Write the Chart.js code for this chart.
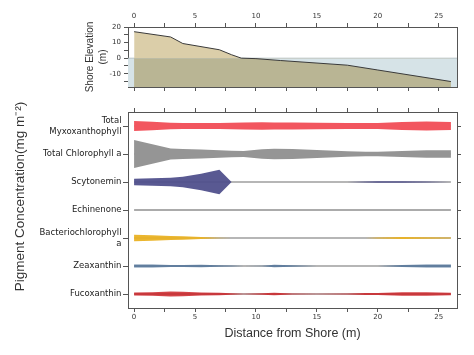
<!DOCTYPE html>
<html><head><meta charset="utf-8">
<script src="https://cdn.jsdelivr.net/npm/chart.js@4.4.1/dist/chart.umd.min.js"></script>
<style>
html,body{margin:0;padding:0;background:#fff;}
#wrap{position:relative;width:474px;height:355px;}
#wrap canvas{position:absolute;left:0;top:0;}
</style></head><body>
<div id="wrap"><canvas id="topc" width="474" height="355"></canvas><canvas id="botc" width="474" height="355"></canvas></div>
<script>
// ---- data ----
const elevDistance = [0, 3, 4, 7, 8, 8.8, 10, 12, 17.5, 20, 26];
const elevation    = [17, 13.6, 9.4, 5.4, 2.2, 0, -0.3, -1.5, -4.5, -7.6, -15];

const stations = [0, 1.5, 3, 4, 5.5, 7, 8, 9, 10.5, 11.5, 13, 15, 17.5, 19, 20, 22, 24, 26];
const pigmentLabels = [['Total', 'Myxoxanthophyll'], 'Total Chlorophyll a', 'Scytonemin', 'Echinenone', ['Bacteriochlorophyll', 'a'], 'Zeaxanthin', 'Fucoxanthin'];
const myxoxanthophyll      = [10, 8.5, 6.5, 6.2, 6, 6.2, 6.5, 6.8, 7.3, 7.2, 7, 6.3, 6.2, 6, 6, 8, 9, 8];
const chlorophyllA         = [28, 19.5, 11, 10, 9, 7.5, 6.5, 6, 9.5, 10.5, 9.8, 8, 5.5, 4.5, 4.3, 6, 7.3, 7.7];
const scytonemin           = [6.3, 7.3, 8.5, 10.5, 16.5, 24.7, 0, 0, 0, 0, 0, 0, 0, 0.8, 1.5, 1.5, 1, 0];
const echinenone           = [0.5, 0.5, 0.5, 0.5, 0.5, 0.5, 0.5, 0.5, 0.5, 0.5, 0.5, 0.5, 0.5, 0.5, 0.5, 0.5, 0.5, 0.5];
const bacteriochlorophyllA = [6.7, 5.3, 4, 3.3, 2.2, 0.5, 0, 0, 0, 0, 0, 0, 0, 0, 1.2, 2, 1.6, 0.8];
const zeaxanthin           = [3, 3, 2, 2.2, 2.3, 1.5, 1, 0, 0.5, 2.5, 1.5, 0, 0, 0, 0, 2, 3, 3];
const fucoxanthin          = [3, 3.5, 5, 4.5, 3, 2.5, 1.5, 0.5, 1.5, 2.5, 1, 0.5, 1, 2, 2, 3.5, 3.5, 2.5];

const distanceTicks = [0, 2.5, 5, 7.5, 10, 12.5, 15, 17.5, 20, 22.5, 25];
const elevationTicks = [-15, -10, -5, 0, 5, 10, 15, 20];

// ---- styles ----
const pigmentSeries = [myxoxanthophyll, chlorophyllA, scytonemin, echinenone, bacteriochlorophyllA, zeaxanthin, fucoxanthin];
const pigmentColors = ['#f2565f', '#959595', 'rgba(80,80,140,0.95)', '#8c8c8c', 'rgba(234,178,36,0.95)', 'rgba(84,118,155,0.85)', 'rgba(205,35,40,0.85)'];
const BAND_SCALE = 1 / 56;
const AX = '#555';
Chart.defaults.font.family = 'DejaVu Sans';
Chart.defaults.color = '#333';

const tickFont = {family: 'DejaVu Sans', size: 7};
const setTicks = arr => s => { s.ticks = arr.map(v => ({value: v})); };
const fixW = w => s => { s.width = w; };
const fixH = h => s => { s.height = h; };
const gridOut = len => ({drawOnChartArea: false, drawTicks: true, tickLength: len, color: AX, tickColor: AX, tickWidth: 1});
const border = {display: true, color: AX, width: 1};
const label5 = v => (Math.abs(v % 5) < 1e-9 ? String(v) : '');

// ---- top chart: shore elevation ----
const waterData = [{x: -0.5, y: 0}, {x: 26.5, y: 0}];
const elevPts = elevDistance.map((x, i) => ({x, y: elevation[i]}));
const elevBelow = elevDistance.map((x, i) => ({x, y: Math.min(elevation[i], 0)}));

new Chart(document.getElementById('topc'), {
  type: 'line',
  data: {datasets: [
    {data: elevPts, borderColor: '#3a3a3a', borderWidth: 1, pointRadius: 0, fill: false, order: 0},
    {data: elevPts, borderColor: 'rgba(0,0,0,0)', pointRadius: 0, fill: {target: {value: 0}, above: '#dbcea9', below: 'rgba(0,0,0,0)'}, order: 2},
    {data: elevBelow, borderColor: 'rgba(0,0,0,0)', pointRadius: 0, fill: 'start', backgroundColor: '#b9b594', order: 2},
    {data: waterData, borderColor: '#aab8bc', borderWidth: 0.8, pointRadius: 0, fill: 'start', backgroundColor: '#d6e3e7', order: 3}
  ]},
  options: {
    responsive: false, animation: false, devicePixelRatio: 1,
    layout: {padding: {left: 0, top: 0, right: 17, bottom: 263}, autoPadding: false},
    plugins: {legend: {display: false}, tooltip: {enabled: false}},
    scales: {
      x: {type: 'linear', position: 'top', min: -0.5, max: 26.5, afterBuildTicks: setTicks(distanceTicks), afterFit: fixH(27),
          grid: gridOut(4), border, ticks: {font: tickFont, padding: 2.5, maxRotation: 0, autoSkip: false, callback: label5}},
      x2: {type: 'linear', position: 'bottom', min: -0.5, max: 26.5, afterBuildTicks: setTicks(distanceTicks), afterFit: fixH(5),
          grid: gridOut(4), border, ticks: {display: false}},
      y: {type: 'linear', position: 'left', min: -18.5, max: 20, afterBuildTicks: setTicks(elevationTicks), afterFit: fixW(128),
          grid: gridOut(4), border, ticks: {font: tickFont, padding: 3, autoSkip: false, callback: v => (v % 10 === 0 ? String(v) : '')},
          title: {display: true, text: ['Shore Elevation', '(m)'], color: '#333', font: {family: 'Liberation Sans', size: 10, lineHeight: '13px'}, padding: {top: 83.5, bottom: 0}}},
      y2: {type: 'linear', position: 'right', min: -18.5, max: 20, afterFit: fixW(0),
          grid: {drawOnChartArea: false, drawTicks: false}, border, ticks: {display: false}}
    }
  }
});

// ---- bottom chart: pigment bands ----
const botDatasets = [];
pigmentSeries.forEach((vals, i) => {
  botDatasets.push({data: [{x: 0, y: i}, {x: 26, y: i}], borderColor: '#9e9e9e', borderWidth: 1.5, pointRadius: 0, fill: false, order: 5});
});
pigmentSeries.forEach((vals, i) => {
  botDatasets.push({data: stations.map((x, k) => ({x, y: i - vals[k] * BAND_SCALE})), borderColor: 'rgba(0,0,0,0)', pointRadius: 0, fill: false, order: 1});
  botDatasets.push({data: stations.map((x, k) => ({x, y: i + vals[k] * BAND_SCALE})), borderColor: 'rgba(0,0,0,0)', pointRadius: 0, fill: '-1', backgroundColor: pigmentColors[i], order: 1});
});
const catTicks = pigmentLabels.map((_, i) => i);

new Chart(document.getElementById('botc'), {
  type: 'line',
  data: {datasets: botDatasets},
  options: {
    responsive: false, animation: false, devicePixelRatio: 1,
    layout: {padding: {left: 0, top: 108, right: 12, bottom: 0}, autoPadding: false},
    plugins: {legend: {display: false}, tooltip: {enabled: false}},
    scales: {
      x: {type: 'linear', position: 'bottom', min: -0.5, max: 26.5, afterBuildTicks: setTicks(distanceTicks), afterFit: fixH(47),
          grid: gridOut(4), border, ticks: {font: tickFont, padding: 1, maxRotation: 0, autoSkip: false, callback: label5},
          title: {display: true, text: 'Distance from Shore (m)', color: '#333', font: {family: 'Liberation Sans', size: 12.5, lineHeight: '15px'}, padding: {top: 0, bottom: 13.5}}},
      x2: {type: 'linear', position: 'top', min: -0.5, max: 26.5, afterBuildTicks: setTicks(distanceTicks), afterFit: fixH(4),
          grid: gridOut(4), border, ticks: {display: false}},
      y: {type: 'linear', position: 'left', reverse: true, min: -0.5, max: 6.5, afterBuildTicks: setTicks(catTicks), afterFit: fixW(128),
          grid: gridOut(5), border, ticks: {font: {family: 'DejaVu Sans', size: 8.5, lineHeight: '11px'}, padding: 1.5, autoSkip: false, color: '#222',
          callback: v => pigmentLabels[Math.round(v)]},
          title: {display: true, text: '\u2003\u2003Pigment Concentration(mg m\u207B\u00B2)', color: '#333', font: {family: 'Liberation Sans', size: 13.5, lineHeight: '15px'}, padding: {top: 13, bottom: 0}}},
      y2: {type: 'linear', position: 'right', reverse: true, min: -0.5, max: 6.5, afterBuildTicks: setTicks(catTicks), afterFit: fixW(5),
          grid: gridOut(4), border, ticks: {display: false}}
    }
  }
});
</script>
</body></html>
